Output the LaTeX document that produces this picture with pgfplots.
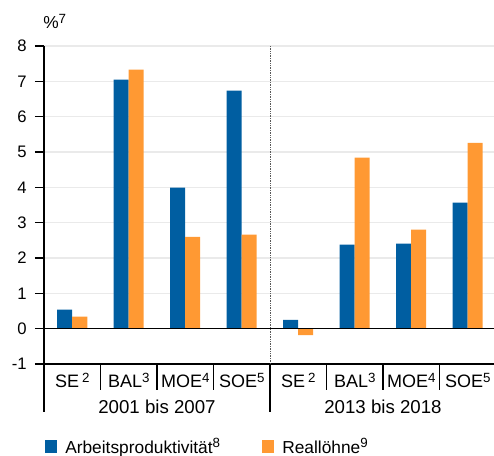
\documentclass[border=0pt]{standalone}
\usepackage{pgfplots}
\pgfplotsset{compat=1.18}
\usepackage{fontspec}
\setmainfont{Liberation Sans}
\definecolor{bbblue}{RGB}{0,94,161}
\definecolor{bborange}{RGB}{255,153,51}
\definecolor{gridgray}{RGB}{234,234,234}
\newcommand{\fn}[1]{\raisebox{0.62ex}{\fontsize{10pt}{10pt}\selectfont #1}}
\begin{document}
\begin{tikzpicture}[font=\fontsize{13pt}{15pt}\selectfont]
\begin{axis}[
  scale only axis, width=339pt, height=238.5pt,
  xmin=-0.5, xmax=7.5, ymin=-1, ymax=8,
  ybar=0pt, bar width=11.25pt,
  axis x line*=bottom, axis y line*=left,
  axis line style={black, line width=0.9pt},
  xtick={0,...,7}, xticklabels={},
  xtick style={draw=none},
  ytick={-1,0,...,8}, yticklabels={-1,0,1,2,3,4,5,6,7,8},
  yticklabel style={font=\fontsize{12.5pt}{14pt}\selectfont, inner sep=0pt, xshift=-6pt},
  ymajorgrids, grid style={gridgray, line width=1pt},
  tick align=outside, major tick length=6.75pt,
  ytick style={black, line width=0.9pt},
  clip=false,
]
\addplot[fill=bbblue, draw=none] coordinates {(0,0.54) (1,7.05) (2,3.99) (3,6.74) (4,0.25) (5,2.38) (6,2.41) (7,3.57)};
\addplot[fill=bborange, draw=none] coordinates {(0,0.34) (1,7.33) (2,2.60) (3,2.66) (4,-0.18) (5,4.84) (6,2.80) (7,5.26)};

% Nulllinie und Trennlinie zwischen den Zeiträumen
\draw[black, line width=0.9pt] (axis cs:-0.5,0) -- (axis cs:7.5,0);
\draw[black!65, dash pattern=on 1pt off 0.8pt, line width=0.7pt] (axis cs:3.5,-1) -- (axis cs:3.5,8);

% Trennstriche unter der Achse
\draw[black, line width=0.9pt] (axis cs:-0.5,-1) -- ++(0pt,-36pt);
\draw[black, line width=0.9pt] (axis cs:3.5,-1) -- ++(0pt,-36pt);
\draw[black, line width=0.9pt] (axis cs:0.5,-1) -- ++(0pt,-19.5pt);
\draw[black, line width=0.9pt] (axis cs:1.5,-1) -- ++(0pt,-19.5pt);
\draw[black, line width=0.9pt] (axis cs:2.5,-1) -- ++(0pt,-19.5pt);
\draw[black, line width=0.9pt] (axis cs:4.5,-1) -- ++(0pt,-19.5pt);
\draw[black, line width=0.9pt] (axis cs:5.5,-1) -- ++(0pt,-19.5pt);
\draw[black, line width=0.9pt] (axis cs:6.5,-1) -- ++(0pt,-19.5pt);

% Kategorien
\tikzset{cat/.style={anchor=base, inner sep=0pt, yshift=-18pt, font=\fontsize{13.5pt}{15pt}\selectfont}}
\node[cat] at (axis cs:0,-1) {SE\,\fn{2}};
\node[cat] at (axis cs:1,-1) {BAL\fn{3}};
\node[cat] at (axis cs:2,-1) {MOE\fn{4}};
\node[cat] at (axis cs:3,-1) {SOE\fn{5}};
\node[cat] at (axis cs:4,-1) {SE\,\fn{2}};
\node[cat] at (axis cs:5,-1) {BAL\fn{3}};
\node[cat] at (axis cs:6,-1) {MOE\fn{4}};
\node[cat] at (axis cs:7,-1) {SOE\fn{5}};
\tikzset{grp/.style={anchor=base, inner sep=0pt, yshift=-36.75pt, font=\fontsize{14pt}{16pt}\selectfont}}
\node[grp] at (axis cs:1.5,-1) {2001 bis 2007};
\node[grp] at (axis cs:5.5,-1) {2013 bis 2018};

% Einheit
\node[anchor=base west, inner sep=0pt] at ([shift={(-0.75pt,12.75pt)}]axis cs:-0.5,8) {\%\fn{7}};

% Legende
\fill[bbblue] ([shift={(0.75pt,-66.75pt)}]axis cs:-0.5,-1) rectangle ++(9pt,9.5pt);
\node[anchor=base west, inner sep=0pt] at ([shift={(15.75pt,-66.75pt)}]axis cs:-0.5,-1) {Arbeitsproduktivität\fn{8}};
\fill[bborange] ([shift={(163.5pt,-66.75pt)}]axis cs:-0.5,-1) rectangle ++(9pt,9.5pt);
\node[anchor=base west, inner sep=0pt] at ([shift={(178.5pt,-66.75pt)}]axis cs:-0.5,-1) {Reallöhne\fn{9}};

\coordinate (ll) at (rel axis cs:0,0);
\coordinate (ur) at (rel axis cs:1,1);
\end{axis}
\pgfresetboundingbox
\path[use as bounding box] ([shift={(-33pt,-68.25pt)}]ll) rectangle ([shift={(-1.5pt,34.5pt)}]ur);
\end{tikzpicture}
\end{document}
